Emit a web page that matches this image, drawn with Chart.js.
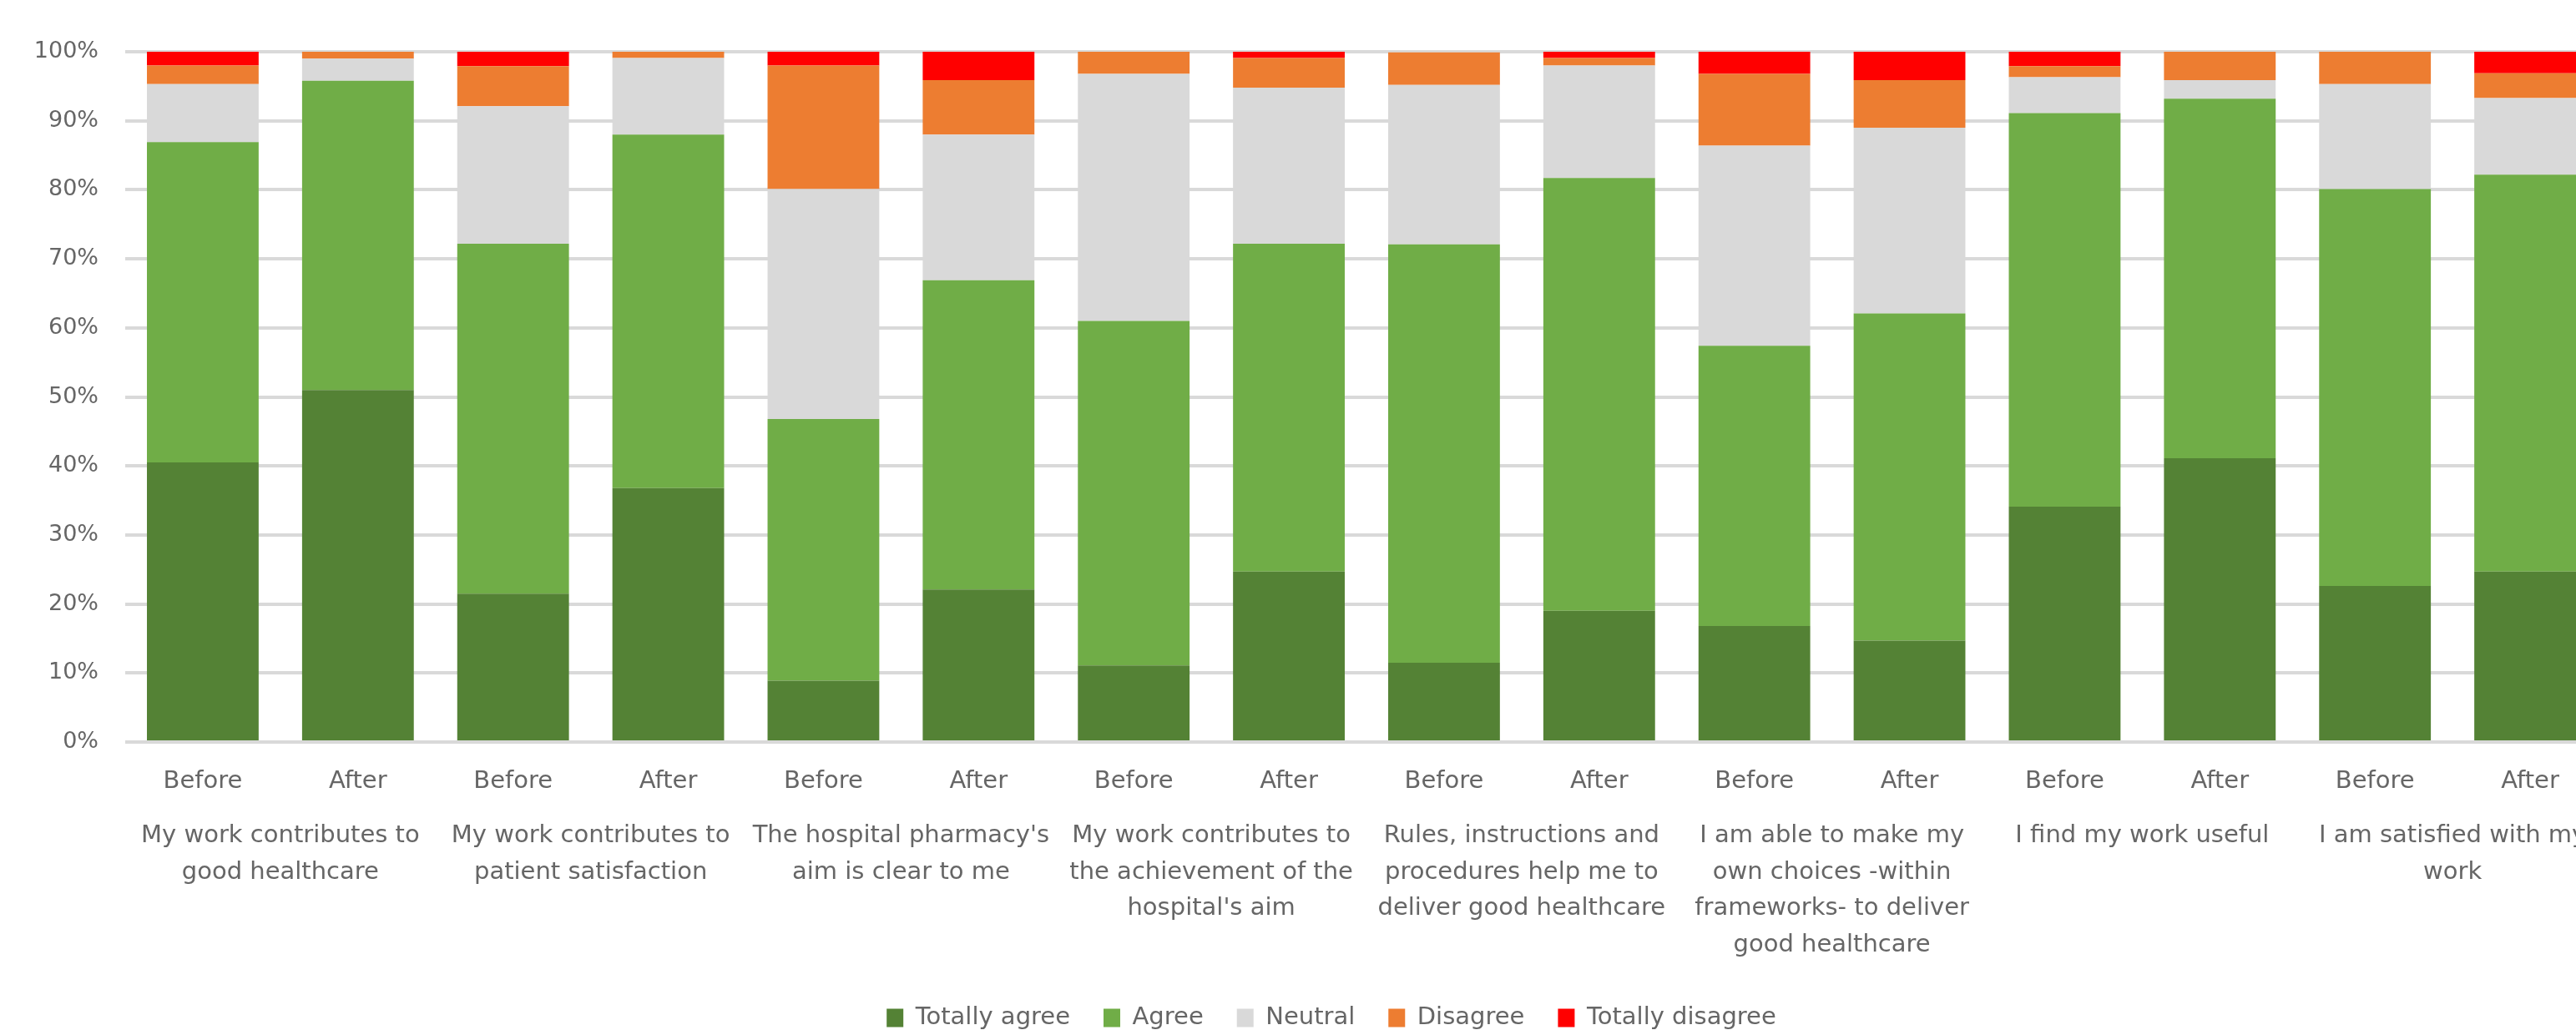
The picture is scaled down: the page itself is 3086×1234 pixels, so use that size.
<!DOCTYPE html>
<html>
<head>
<meta charset="utf-8">
<script src="https://cdn.jsdelivr.net/npm/chart.js@4"></script>
<style>
  html, body { margin: 0; padding: 0; background: #fff; overflow: hidden; }
  #wrap { width: 3200px; height: 1234px; }
</style>
</head>
<body>
<div id="wrap"><canvas id="myChart" width="3200" height="1234"></canvas></div>
<script>
// bar labels (one per bar) and the statement each pair belongs to
const phases = ['Before', 'After', 'Before', 'After', 'Before', 'After', 'Before', 'After',
  'Before', 'After', 'Before', 'After', 'Before', 'After', 'Before', 'After'];
const statements = [
  ['My work contributes to', 'good healthcare'],
  ['My work contributes to', 'patient satisfaction'],
  ["The hospital pharmacy's", 'aim is clear to me'],
  ['My work contributes to', 'the achievement of the', "hospital's aim"],
  ['Rules, instructions and', 'procedures help me to', 'deliver good healthcare'],
  ['I am able to make my', 'own choices -within', 'frameworks- to deliver', 'good healthcare'],
  ['I find my work useful'],
  ['I am satisfied with my', 'work'],
];
const yTicks = [0, 10, 20, 30, 40, 50, 60, 70, 80, 90, 100];

// answer shares in %
const totallyAgree    = [40.5, 51.0, 21.5, 36.8, 8.9, 22.1, 11.1, 24.7, 11.5, 19.0, 16.8, 14.7, 34.1, 41.1, 22.6, 24.7];
const agree           = [46.4, 44.8, 50.7, 51.2, 37.9, 44.8, 49.9, 47.5, 60.6, 62.7, 40.6, 47.4, 57.0, 52.1, 57.5, 57.5];
const neutral         = [8.4, 3.2, 19.9, 11.1, 33.3, 21.1, 35.8, 22.6, 23.1, 16.3, 29.0, 26.9, 5.2, 2.7, 15.2, 11.1];
const disagree        = [2.7, 1.0, 5.8, 1.0, 17.9, 7.9, 3.2, 4.3, 4.7, 1.1, 10.4, 6.9, 1.6, 4.1, 4.7, 3.6];
const totallyDisagree = [2.0, 0, 2.1, 0, 2.1, 4.1, 0, 1.0, 0, 1.0, 3.2, 4.1, 2.1, 0, 0, 3.2];

const textColor = '#666666';
const fontFamily = '"DejaVu Sans", sans-serif';

const mk = (label, data, color) => ({
  label, data,
  backgroundColor: color,
  borderWidth: 0,
  barPercentage: 0.72,
  categoryPercentage: 1,
  xAxisID: 'x',
});

// keep the category axes from pushing the plot inward
const noSidePad = (h) => (axis) => { axis.paddingLeft = 0; axis.paddingRight = 0; axis.height = h; };

// the legend sits a little right of the plot's centre in the original
const nudgeLegend = {
  id: 'nudgeLegend',
  afterLayout(chart) {
    chart.legend.left += 15;
    chart.legend.right += 15;
  },
};

const data = {
  labels: phases,
  datasets: [
    mk('Totally agree', totallyAgree, '#548235'),
    mk('Agree', agree, '#70ad47'),
    mk('Neutral', neutral, '#d9d9d9'),
    mk('Disagree', disagree, '#ed7d31'),
    mk('Totally disagree', totallyDisagree, '#ff0000'),
  ],
};

const config = {
  type: 'bar',
  data,
  plugins: [nudgeLegend],
  options: {
    responsive: false,
    animation: false,
    layout: { padding: { top: 62, left: 36, right: 76, bottom: -10 } },
    plugins: {
      tooltip: { enabled: false },
      legend: {
        position: 'bottom',
        labels: {
          color: textColor,
          font: { family: fontFamily, size: 29 },
          boxWidth: 20,
          boxHeight: 22,
          padding: 40,
        },
      },
    },
    scales: {
      x: {
        stacked: true,
        weight: 0,
        grid: { display: false, drawTicks: false },
        border: { display: false },
        afterFit: noSidePad(60),
        ticks: {
          color: textColor,
          font: { family: fontFamily, size: 29 },
          padding: 30,
          autoSkip: false,
          maxRotation: 0,
        },
      },
      group: {
        type: 'category',
        position: 'bottom',
        labels: statements,
        offset: true,
        weight: 1,
        grid: { display: false, drawTicks: false },
        border: { display: false },
        afterFit: noSidePad(216),
        ticks: {
          color: textColor,
          font: { family: fontFamily, size: 29, lineHeight: 1.5 },
          padding: 31,
          autoSkip: false,
          maxRotation: 0,
        },
      },
      y: {
        stacked: true,
        min: 0,
        max: 100,
        afterBuildTicks: (axis) => { axis.ticks = yTicks.map(v => ({ value: v })); },
        afterFit: (axis) => { axis.width = 114; },
        grid: { color: '#d9d9d9', lineWidth: 4, drawTicks: false },
        border: { display: false },
        ticks: {
          color: textColor,
          font: { family: fontFamily, size: 27 },
          padding: 32,
          callback: (v) => v + '%',
        },
      },
    },
  },
};

new Chart(document.getElementById('myChart'), config);
</script>
</body>
</html>
